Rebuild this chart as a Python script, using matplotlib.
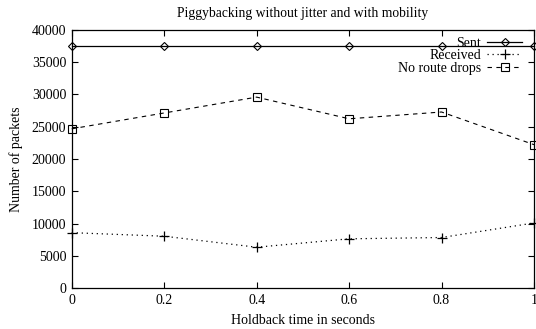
import numpy as np
import matplotlib
matplotlib.use('Agg')
import matplotlib.pyplot as plt

plt.rcParams['font.family'] = ['Liberation Serif', 'DejaVu Serif']
plt.rcParams['font.size'] = 10

holdback = [0, 0.2, 0.4, 0.6, 0.8, 1.0]
sent = [37400, 37400, 37400, 37400, 37400, 37400]
received = [8600, 8050, 6350, 7650, 7850, 10100]
no_route = [24650, 27100, 29550, 26200, 27250, 22200]

fig = plt.figure(figsize=(5.36, 3.29), dpi=100)
axes = fig.add_axes([0.1338, 0.1237, 0.8625, 0.7866])

axes.plot(holdback, sent, color='black', linestyle='-', linewidth=0.9,
          marker='D', markersize=4, markerfacecolor='none', markeredgewidth=0.8,
          label='Sent', clip_on=False)
axes.plot(holdback, received, color='black', linestyle=(0, (1, 3)), linewidth=0.9,
          marker='+', markersize=7, markeredgewidth=0.9,
          label='Received', clip_on=False)
axes.plot(holdback, no_route, color='black', linestyle=(0, (4, 4)), linewidth=0.8,
          marker='s', markersize=5.5, markerfacecolor='none', markeredgewidth=0.8,
          label='No route drops', clip_on=False)

axes.set_xlim(0, 1)
axes.set_ylim(0, 40000)
axes.set_xticks([0, 0.2, 0.4, 0.6, 0.8, 1])
axes.set_xticklabels(['0', '0.2', '0.4', '0.6', '0.8', '1'])
axes.set_yticks(np.arange(0, 40001, 5000))
axes.tick_params(direction='in', top=True, right=True, length=4.5, width=0.8, pad=4)
for s in axes.spines.values():
    s.set_linewidth(0.9)

axes.legend(loc='upper right', bbox_to_anchor=(0.974, 0.971), frameon=False,
            markerfirst=False, handlelength=2.5, borderaxespad=0, borderpad=0,
            labelspacing=-0.05, handletextpad=0.45)

plt.xlabel('Holdback time in seconds', labelpad=5)
plt.ylabel('Number of packets', labelpad=6)
plt.title('Piggybacking without jitter and with mobility', fontsize=9.8, pad=9)

fig.savefig('out.png')
